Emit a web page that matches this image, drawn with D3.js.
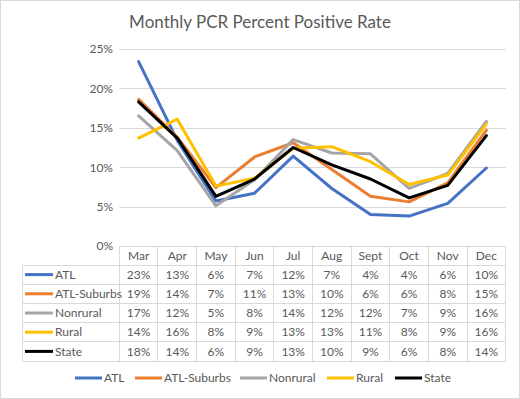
<!DOCTYPE html>
<html>
<head>
<meta charset="utf-8">
<script src="https://cdn.jsdelivr.net/npm/d3@7"></script>
<style>
  body { margin: 0; background: #fff; }
  text { font-family: Lato, "Open Sans", sans-serif; fill: #595959; }
</style>
</head>
<body>
<svg id="chart"></svg>
<script>
// Months along the x axis.
const months = ['Mar', 'Apr', 'May', 'Jun', 'Jul', 'Aug', 'Sept', 'Oct', 'Nov', 'Dec'];
const seriesNames = ['ATL', 'ATL-Suburbs', 'Nonrural', 'Rural', 'State'];
const seriesColors = ['#4472C4', '#ED7D31', '#A5A5A5', '#FFC000', '#000000'];

// Percent positive.
const atl = [23.4, 13.4, 5.7, 6.7, 11.4, 7.3, 4.0, 3.8, 5.4, 9.9];
const atlSuburbs = [18.6, 13.8, 7.4, 11.3, 13.1, 9.7, 6.3, 5.6, 8.0, 14.7];
const nonrural = [16.5, 12.1, 5.1, 8.4, 13.5, 11.8, 11.7, 7.3, 9.2, 15.8];
const rural = [13.7, 16.1, 7.6, 8.6, 12.4, 12.6, 10.7, 7.8, 9.0, 15.5];
const state = [18.3, 13.7, 6.3, 8.5, 12.5, 10.3, 8.5, 6.1, 7.7, 14.0];

// Rounded values printed in the data table.
const atlTable = [23, 13, 6, 7, 12, 7, 4, 4, 6, 10];
const atlSuburbsTable = [19, 14, 7, 11, 13, 10, 6, 6, 8, 15];
const nonruralTable = [17, 12, 5, 8, 14, 12, 12, 7, 9, 16];
const ruralTable = [14, 16, 8, 9, 13, 13, 11, 8, 9, 16];
const stateTable = [18, 14, 6, 9, 13, 10, 9, 6, 8, 14];

const yTicks = [0, 0.05, 0.10, 0.15, 0.20, 0.25];

const seriesValues = [atl, atlSuburbs, nonrural, rural, state];
const tableValues = [atlTable, atlSuburbsTable, nonruralTable, ruralTable, stateTable];

const width = 520, height = 399;
const grid = '#D9D9D9';

const svg = d3.select('#chart').attr('width', width).attr('height', height);

svg.append('rect')
  .attr('x', 0.5).attr('y', 0.5)
  .attr('width', width - 1).attr('height', height - 1)
  .attr('fill', '#fff').attr('stroke', grid);

svg.append('text')
  .attr('x', 260).attr('y', 28)
  .attr('text-anchor', 'middle')
  .style('font-size', '17px')
  .text('Monthly PCR Percent Positive Rate');

const x = d3.scaleBand().domain(months).range([119.3, 505.7]);
const y = d3.scaleLinear().domain([0, 0.25]).range([246, 49]);

// Gridlines
svg.append('g')
  .selectAll('line')
  .data(yTicks)
  .join('line')
  .attr('x1', 119.3).attr('x2', 505.7)
  .attr('y1', (d) => Math.round(y(d)) + 0.5)
  .attr('y2', (d) => Math.round(y(d)) + 0.5)
  .attr('stroke', grid);

// Y axis labels
const yAxis = svg.append('g')
  .attr('transform', 'translate(113,0)')
  .call(d3.axisLeft(y).tickValues(yTicks).tickFormat(d3.format('.0%')).tickSize(0).tickPadding(0));
yAxis.select('.domain').remove();
yAxis.selectAll('text')
  .style('font-size', '12px')
  .style('font-family', 'Lato, "Open Sans", sans-serif')
  .attr('fill', '#595959');

// Lines
const line = d3.line()
  .x((d, i) => x(months[i]) + x.bandwidth() / 2)
  .y((d) => y(d / 100));

svg.append('g')
  .selectAll('path')
  .data(seriesValues)
  .join('path')
  .attr('d', line)
  .attr('fill', 'none')
  .attr('stroke', (d, i) => seriesColors[i])
  .attr('stroke-width', 3)
  .attr('stroke-linejoin', 'round')
  .attr('stroke-linecap', 'round');

// Data table
const tableLeft = 22.7;
const headerTop = 246;
const rowTop = 265;
const rowH = 19.2;
const tableBottom = rowTop + rowH * seriesNames.length;

const table = svg.append('g').attr('stroke', grid).attr('shape-rendering', 'crispEdges');
// vertical lines for month columns (including header)
x.domain().concat(['end']).forEach((m, i) => {
  const xx = i < months.length ? x(m) : x.range()[1];
  table.append('line')
    .attr('x1', xx).attr('x2', xx)
    .attr('y1', headerTop).attr('y2', tableBottom);
});
table.append('line')
  .attr('x1', tableLeft).attr('x2', tableLeft)
  .attr('y1', rowTop).attr('y2', tableBottom);
d3.range(seriesNames.length + 1).forEach((r) => {
  table.append('line')
    .attr('x1', tableLeft).attr('x2', x.range()[1])
    .attr('y1', rowTop + r * rowH).attr('y2', rowTop + r * rowH);
});

// Header labels
svg.append('g')
  .selectAll('text')
  .data(months)
  .join('text')
  .attr('x', (d) => x(d) + x.bandwidth() / 2)
  .attr('y', (headerTop + rowTop) / 2)
  .attr('dy', '0.35em')
  .attr('text-anchor', 'middle')
  .style('font-size', '12px')
  .text((d) => d);

// Rows
const rows = svg.append('g')
  .selectAll('g')
  .data(seriesNames)
  .join('g')
  .attr('transform', (d, i) => `translate(0,${rowTop + i * rowH + rowH / 2})`);

rows.append('line')
  .attr('x1', 25).attr('x2', 53)
  .attr('stroke', (d, i) => seriesColors[i])
  .attr('stroke-width', 3);

rows.append('text')
  .attr('x', 55).attr('dy', '0.35em')
  .style('font-size', '12px')
  .text((d) => d);

rows.each(function (name, r) {
  d3.select(this)
    .selectAll('text.val')
    .data(tableValues[r])
    .join('text')
    .attr('class', 'val')
    .attr('x', (d, i) => x(months[i]) + x.bandwidth() / 2)
    .attr('dy', '0.35em')
    .attr('text-anchor', 'middle')
    .style('font-size', '12px')
    .text((d) => d + '%');
});

// Legend
const legendX = [75, 135, 240, 327, 395];
const legend = svg.append('g')
  .selectAll('g')
  .data(seriesNames)
  .join('g')
  .attr('transform', (d, i) => `translate(${legendX[i]},378)`);

legend.append('line')
  .attr('x1', 0).attr('x2', 27)
  .attr('stroke', (d, i) => seriesColors[i])
  .attr('stroke-width', 3);

legend.append('text')
  .attr('x', 29).attr('dy', '0.35em')
  .style('font-size', '12px')
  .text((d) => d);
</script>
</body>
</html>
